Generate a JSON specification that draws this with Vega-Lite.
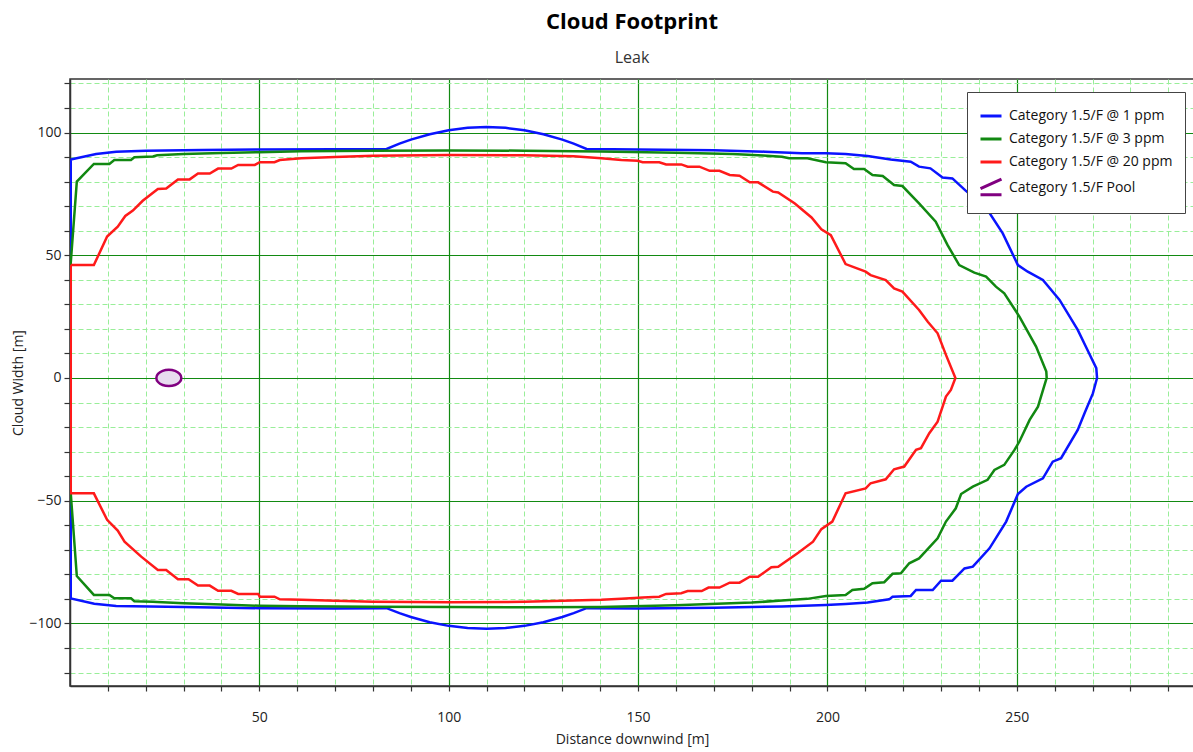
{
  "$schema": "https://vega.github.io/schema/vega-lite/v6.json",
  "width": 1124,
  "height": 607,
  "autosize": {"type": "none"},
  "padding": {"left": 70, "top": 79, "right": 0, "bottom": 66},
  "background": "white",
  "title": {
    "text": "Cloud Footprint",
    "subtitle": "Leak",
    "font": "Open Sans",
    "fontSize": 22,
    "fontWeight": "bold",
    "color": "#000000",
    "subtitleFont": "Open Sans",
    "subtitleFontSize": 16,
    "subtitleColor": "#333333",
    "anchor": "middle",
    "offset": 12,
    "subtitlePadding": 16
  },
  "config": {
    "view": {"stroke": "#333333", "strokeWidth": 1.5},
    "legend": {
      "orient": "none",
      "legendX": 897,
      "legendY": 13,
      "fillColor": "white",
      "strokeColor": "#444444",
      "padding": 12,
      "symbolType": "stroke",
      "symbolSize": 441,
      "symbolStrokeWidth": 3,
      "labelFont": "Open Sans",
      "labelFontSize": 14,
      "labelColor": "#111111",
      "labelOffset": 6,
      "rowPadding": 4,
      "labelLimit": 300
    }
  },
  "datasets": {
    "clouds": [
      {"s":"Category 1.5/F @ 1 ppm","x":0.2,"y":89},
      {"s":"Category 1.5/F @ 1 ppm","x":6.9,"y":91.2},
      {"s":"Category 1.5/F @ 1 ppm","x":12.2,"y":92.2},
      {"s":"Category 1.5/F @ 1 ppm","x":20,"y":92.6},
      {"s":"Category 1.5/F @ 1 ppm","x":35,"y":92.9},
      {"s":"Category 1.5/F @ 1 ppm","x":50,"y":93.1},
      {"s":"Category 1.5/F @ 1 ppm","x":70,"y":93.2},
      {"s":"Category 1.5/F @ 1 ppm","x":83.6,"y":93.3},
      {"s":"Category 1.5/F @ 1 ppm","x":87,"y":95.45},
      {"s":"Category 1.5/F @ 1 ppm","x":90,"y":97.1},
      {"s":"Category 1.5/F @ 1 ppm","x":95,"y":99.3},
      {"s":"Category 1.5/F @ 1 ppm","x":100,"y":100.9},
      {"s":"Category 1.5/F @ 1 ppm","x":105,"y":101.9},
      {"s":"Category 1.5/F @ 1 ppm","x":110,"y":102.2},
      {"s":"Category 1.5/F @ 1 ppm","x":115,"y":101.9},
      {"s":"Category 1.5/F @ 1 ppm","x":120,"y":100.9},
      {"s":"Category 1.5/F @ 1 ppm","x":125,"y":99.3},
      {"s":"Category 1.5/F @ 1 ppm","x":130,"y":97.1},
      {"s":"Category 1.5/F @ 1 ppm","x":133,"y":95.45},
      {"s":"Category 1.5/F @ 1 ppm","x":136.4,"y":93.3},
      {"s":"Category 1.5/F @ 1 ppm","x":150,"y":93.1},
      {"s":"Category 1.5/F @ 1 ppm","x":170,"y":92.8},
      {"s":"Category 1.5/F @ 1 ppm","x":183.5,"y":92.2},
      {"s":"Category 1.5/F @ 1 ppm","x":193.3,"y":91.5},
      {"s":"Category 1.5/F @ 1 ppm","x":199.6,"y":91.5},
      {"s":"Category 1.5/F @ 1 ppm","x":204.8,"y":91.2},
      {"s":"Category 1.5/F @ 1 ppm","x":210.6,"y":90.4},
      {"s":"Category 1.5/F @ 1 ppm","x":216.7,"y":89},
      {"s":"Category 1.5/F @ 1 ppm","x":222,"y":88.1},
      {"s":"Category 1.5/F @ 1 ppm","x":224.2,"y":86.1},
      {"s":"Category 1.5/F @ 1 ppm","x":227.2,"y":85.4},
      {"s":"Category 1.5/F @ 1 ppm","x":230.4,"y":81.7},
      {"s":"Category 1.5/F @ 1 ppm","x":233,"y":81.3},
      {"s":"Category 1.5/F @ 1 ppm","x":236.5,"y":76.3},
      {"s":"Category 1.5/F @ 1 ppm","x":239.5,"y":72.5},
      {"s":"Category 1.5/F @ 1 ppm","x":242.3,"y":68.4},
      {"s":"Category 1.5/F @ 1 ppm","x":246.3,"y":58.9},
      {"s":"Category 1.5/F @ 1 ppm","x":250.3,"y":46},
      {"s":"Category 1.5/F @ 1 ppm","x":252.9,"y":43.3},
      {"s":"Category 1.5/F @ 1 ppm","x":256.9,"y":39.9},
      {"s":"Category 1.5/F @ 1 ppm","x":261.3,"y":31.8},
      {"s":"Category 1.5/F @ 1 ppm","x":266.1,"y":19.6},
      {"s":"Category 1.5/F @ 1 ppm","x":268.8,"y":11},
      {"s":"Category 1.5/F @ 1 ppm","x":271,"y":4},
      {"s":"Category 1.5/F @ 1 ppm","x":271.2,"y":0},
      {"s":"Category 1.5/F @ 1 ppm","x":270.1,"y":-6.3},
      {"s":"Category 1.5/F @ 1 ppm","x":268,"y":-14},
      {"s":"Category 1.5/F @ 1 ppm","x":266.1,"y":-21.2},
      {"s":"Category 1.5/F @ 1 ppm","x":261.7,"y":-32.7},
      {"s":"Category 1.5/F @ 1 ppm","x":259.5,"y":-34.1},
      {"s":"Category 1.5/F @ 1 ppm","x":256.9,"y":-40.9},
      {"s":"Category 1.5/F @ 1 ppm","x":252.5,"y":-44.3},
      {"s":"Category 1.5/F @ 1 ppm","x":250.3,"y":-47.3},
      {"s":"Category 1.5/F @ 1 ppm","x":247.2,"y":-58.5},
      {"s":"Category 1.5/F @ 1 ppm","x":242.8,"y":-69.4},
      {"s":"Category 1.5/F @ 1 ppm","x":238.4,"y":-76.9},
      {"s":"Category 1.5/F @ 1 ppm","x":236.2,"y":-77.6},
      {"s":"Category 1.5/F @ 1 ppm","x":233,"y":-82.6},
      {"s":"Category 1.5/F @ 1 ppm","x":230,"y":-82.6},
      {"s":"Category 1.5/F @ 1 ppm","x":227.8,"y":-86.4},
      {"s":"Category 1.5/F @ 1 ppm","x":223.4,"y":-86.4},
      {"s":"Category 1.5/F @ 1 ppm","x":222,"y":-88.8},
      {"s":"Category 1.5/F @ 1 ppm","x":217.2,"y":-89.1},
      {"s":"Category 1.5/F @ 1 ppm","x":216.3,"y":-90.2},
      {"s":"Category 1.5/F @ 1 ppm","x":210.6,"y":-91.5},
      {"s":"Category 1.5/F @ 1 ppm","x":204.8,"y":-92.1},
      {"s":"Category 1.5/F @ 1 ppm","x":199.6,"y":-92.5},
      {"s":"Category 1.5/F @ 1 ppm","x":188,"y":-93.1},
      {"s":"Category 1.5/F @ 1 ppm","x":170,"y":-93.6},
      {"s":"Category 1.5/F @ 1 ppm","x":150,"y":-93.9},
      {"s":"Category 1.5/F @ 1 ppm","x":136.4,"y":-93.8},
      {"s":"Category 1.5/F @ 1 ppm","x":133,"y":-95.8},
      {"s":"Category 1.5/F @ 1 ppm","x":130,"y":-97.4},
      {"s":"Category 1.5/F @ 1 ppm","x":125,"y":-99.5},
      {"s":"Category 1.5/F @ 1 ppm","x":120,"y":-101},
      {"s":"Category 1.5/F @ 1 ppm","x":115,"y":-101.9},
      {"s":"Category 1.5/F @ 1 ppm","x":110,"y":-102.2},
      {"s":"Category 1.5/F @ 1 ppm","x":105,"y":-101.9},
      {"s":"Category 1.5/F @ 1 ppm","x":100,"y":-101},
      {"s":"Category 1.5/F @ 1 ppm","x":95,"y":-99.5},
      {"s":"Category 1.5/F @ 1 ppm","x":90,"y":-97.4},
      {"s":"Category 1.5/F @ 1 ppm","x":87,"y":-95.8},
      {"s":"Category 1.5/F @ 1 ppm","x":83.6,"y":-93.8},
      {"s":"Category 1.5/F @ 1 ppm","x":70,"y":-93.9},
      {"s":"Category 1.5/F @ 1 ppm","x":50,"y":-93.8},
      {"s":"Category 1.5/F @ 1 ppm","x":30,"y":-93.3},
      {"s":"Category 1.5/F @ 1 ppm","x":12.2,"y":-92.9},
      {"s":"Category 1.5/F @ 1 ppm","x":6.4,"y":-92},
      {"s":"Category 1.5/F @ 1 ppm","x":0.2,"y":-89.8},
      {"s":"Category 1.5/F @ 1 ppm","x":0.2,"y":89},

      {"s":"Category 1.5/F @ 3 ppm","x":0.2,"y":47},
      {"s":"Category 1.5/F @ 3 ppm","x":1.8,"y":80},
      {"s":"Category 1.5/F @ 3 ppm","x":6.3,"y":87.2},
      {"s":"Category 1.5/F @ 3 ppm","x":10.4,"y":87.2},
      {"s":"Category 1.5/F @ 3 ppm","x":11.7,"y":88.8},
      {"s":"Category 1.5/F @ 3 ppm","x":16.1,"y":88.8},
      {"s":"Category 1.5/F @ 3 ppm","x":17,"y":89.9},
      {"s":"Category 1.5/F @ 3 ppm","x":21.9,"y":90.2},
      {"s":"Category 1.5/F @ 3 ppm","x":23,"y":90.7},
      {"s":"Category 1.5/F @ 3 ppm","x":30,"y":91.2},
      {"s":"Category 1.5/F @ 3 ppm","x":40,"y":91.7},
      {"s":"Category 1.5/F @ 3 ppm","x":50,"y":92},
      {"s":"Category 1.5/F @ 3 ppm","x":61,"y":92.4},
      {"s":"Category 1.5/F @ 3 ppm","x":80,"y":92.6},
      {"s":"Category 1.5/F @ 3 ppm","x":100,"y":92.7},
      {"s":"Category 1.5/F @ 3 ppm","x":120,"y":92.6},
      {"s":"Category 1.5/F @ 3 ppm","x":140,"y":92.3},
      {"s":"Category 1.5/F @ 3 ppm","x":160,"y":91.8},
      {"s":"Category 1.5/F @ 3 ppm","x":175,"y":91.2},
      {"s":"Category 1.5/F @ 3 ppm","x":183,"y":90.6},
      {"s":"Category 1.5/F @ 3 ppm","x":188,"y":90.1},
      {"s":"Category 1.5/F @ 3 ppm","x":189.9,"y":89.5},
      {"s":"Category 1.5/F @ 3 ppm","x":194.7,"y":89.5},
      {"s":"Category 1.5/F @ 3 ppm","x":199.6,"y":87.9},
      {"s":"Category 1.5/F @ 3 ppm","x":204.8,"y":87.5},
      {"s":"Category 1.5/F @ 3 ppm","x":207,"y":85.1},
      {"s":"Category 1.5/F @ 3 ppm","x":209.7,"y":85.1},
      {"s":"Category 1.5/F @ 3 ppm","x":211.9,"y":82.7},
      {"s":"Category 1.5/F @ 3 ppm","x":214.6,"y":82.3},
      {"s":"Category 1.5/F @ 3 ppm","x":217.6,"y":78.6},
      {"s":"Category 1.5/F @ 3 ppm","x":219.8,"y":78.2},
      {"s":"Category 1.5/F @ 3 ppm","x":224.2,"y":71.1},
      {"s":"Category 1.5/F @ 3 ppm","x":228.6,"y":63.7},
      {"s":"Category 1.5/F @ 3 ppm","x":231.7,"y":54.2},
      {"s":"Category 1.5/F @ 3 ppm","x":234.8,"y":46},
      {"s":"Category 1.5/F @ 3 ppm","x":238.8,"y":42.9},
      {"s":"Category 1.5/F @ 3 ppm","x":241.9,"y":41.3},
      {"s":"Category 1.5/F @ 3 ppm","x":244.5,"y":37.2},
      {"s":"Category 1.5/F @ 3 ppm","x":246.7,"y":34.5},
      {"s":"Category 1.5/F @ 3 ppm","x":250.7,"y":25},
      {"s":"Category 1.5/F @ 3 ppm","x":255.1,"y":12.8},
      {"s":"Category 1.5/F @ 3 ppm","x":257.8,"y":2.6},
      {"s":"Category 1.5/F @ 3 ppm","x":257.9,"y":0},
      {"s":"Category 1.5/F @ 3 ppm","x":255.6,"y":-11.7},
      {"s":"Category 1.5/F @ 3 ppm","x":253.4,"y":-17.1},
      {"s":"Category 1.5/F @ 3 ppm","x":250.7,"y":-25.9},
      {"s":"Category 1.5/F @ 3 ppm","x":249.4,"y":-29.3},
      {"s":"Category 1.5/F @ 3 ppm","x":246.7,"y":-35.4},
      {"s":"Category 1.5/F @ 3 ppm","x":244.1,"y":-37.5},
      {"s":"Category 1.5/F @ 3 ppm","x":242.3,"y":-41.5},
      {"s":"Category 1.5/F @ 3 ppm","x":238.4,"y":-44.3},
      {"s":"Category 1.5/F @ 3 ppm","x":235.3,"y":-47.3},
      {"s":"Category 1.5/F @ 3 ppm","x":233.9,"y":-53.1},
      {"s":"Category 1.5/F @ 3 ppm","x":231.3,"y":-58.5},
      {"s":"Category 1.5/F @ 3 ppm","x":229.1,"y":-65.3},
      {"s":"Category 1.5/F @ 3 ppm","x":224.2,"y":-73.5},
      {"s":"Category 1.5/F @ 3 ppm","x":221.6,"y":-75.5},
      {"s":"Category 1.5/F @ 3 ppm","x":219.4,"y":-79.6},
      {"s":"Category 1.5/F @ 3 ppm","x":217.2,"y":-79.8},
      {"s":"Category 1.5/F @ 3 ppm","x":215,"y":-83.2},
      {"s":"Category 1.5/F @ 3 ppm","x":211.9,"y":-83.6},
      {"s":"Category 1.5/F @ 3 ppm","x":209.7,"y":-85.9},
      {"s":"Category 1.5/F @ 3 ppm","x":206.6,"y":-86.4},
      {"s":"Category 1.5/F @ 3 ppm","x":204.8,"y":-88.4},
      {"s":"Category 1.5/F @ 3 ppm","x":199.6,"y":-88.8},
      {"s":"Category 1.5/F @ 3 ppm","x":194.7,"y":-90},
      {"s":"Category 1.5/F @ 3 ppm","x":188,"y":-90.7},
      {"s":"Category 1.5/F @ 3 ppm","x":180,"y":-91.5},
      {"s":"Category 1.5/F @ 3 ppm","x":160,"y":-92.6},
      {"s":"Category 1.5/F @ 3 ppm","x":140,"y":-93.3},
      {"s":"Category 1.5/F @ 3 ppm","x":120,"y":-93.4},
      {"s":"Category 1.5/F @ 3 ppm","x":100,"y":-93.3},
      {"s":"Category 1.5/F @ 3 ppm","x":80,"y":-93.2},
      {"s":"Category 1.5/F @ 3 ppm","x":61,"y":-93},
      {"s":"Category 1.5/F @ 3 ppm","x":50,"y":-92.8},
      {"s":"Category 1.5/F @ 3 ppm","x":40,"y":-92.3},
      {"s":"Category 1.5/F @ 3 ppm","x":30,"y":-91.8},
      {"s":"Category 1.5/F @ 3 ppm","x":23,"y":-91.3},
      {"s":"Category 1.5/F @ 3 ppm","x":21.9,"y":-91.2},
      {"s":"Category 1.5/F @ 3 ppm","x":17,"y":-91},
      {"s":"Category 1.5/F @ 3 ppm","x":16.1,"y":-89.8},
      {"s":"Category 1.5/F @ 3 ppm","x":11.7,"y":-89.8},
      {"s":"Category 1.5/F @ 3 ppm","x":10.4,"y":-88.4},
      {"s":"Category 1.5/F @ 3 ppm","x":6.3,"y":-88.4},
      {"s":"Category 1.5/F @ 3 ppm","x":1.8,"y":-80.7},
      {"s":"Category 1.5/F @ 3 ppm","x":0.2,"y":-47},
      {"s":"Category 1.5/F @ 3 ppm","x":0.2,"y":47},

      {"s":"Category 1.5/F @ 20 ppm","x":0.2,"y":46},
      {"s":"Category 1.5/F @ 20 ppm","x":6.3,"y":46},
      {"s":"Category 1.5/F @ 20 ppm","x":9.8,"y":57.6},
      {"s":"Category 1.5/F @ 20 ppm","x":12.6,"y":61.6},
      {"s":"Category 1.5/F @ 20 ppm","x":14.6,"y":66},
      {"s":"Category 1.5/F @ 20 ppm","x":16.6,"y":68.2},
      {"s":"Category 1.5/F @ 20 ppm","x":19.2,"y":72.2},
      {"s":"Category 1.5/F @ 20 ppm","x":23.2,"y":77},
      {"s":"Category 1.5/F @ 20 ppm","x":25.4,"y":77.2},
      {"s":"Category 1.5/F @ 20 ppm","x":28.5,"y":80.9},
      {"s":"Category 1.5/F @ 20 ppm","x":31.6,"y":80.9},
      {"s":"Category 1.5/F @ 20 ppm","x":33.8,"y":83.3},
      {"s":"Category 1.5/F @ 20 ppm","x":36.9,"y":83.3},
      {"s":"Category 1.5/F @ 20 ppm","x":39.1,"y":85.3},
      {"s":"Category 1.5/F @ 20 ppm","x":42.6,"y":85.3},
      {"s":"Category 1.5/F @ 20 ppm","x":44.4,"y":86.8},
      {"s":"Category 1.5/F @ 20 ppm","x":48.8,"y":86.8},
      {"s":"Category 1.5/F @ 20 ppm","x":50.1,"y":87.9},
      {"s":"Category 1.5/F @ 20 ppm","x":54,"y":87.9},
      {"s":"Category 1.5/F @ 20 ppm","x":55.4,"y":88.8},
      {"s":"Category 1.5/F @ 20 ppm","x":61.1,"y":89.5},
      {"s":"Category 1.5/F @ 20 ppm","x":70,"y":90},
      {"s":"Category 1.5/F @ 20 ppm","x":80,"y":90.5},
      {"s":"Category 1.5/F @ 20 ppm","x":100,"y":90.8},
      {"s":"Category 1.5/F @ 20 ppm","x":120,"y":90.7},
      {"s":"Category 1.5/F @ 20 ppm","x":133,"y":90.3},
      {"s":"Category 1.5/F @ 20 ppm","x":140.3,"y":89.5},
      {"s":"Category 1.5/F @ 20 ppm","x":145.6,"y":88.8},
      {"s":"Category 1.5/F @ 20 ppm","x":149.9,"y":88.5},
      {"s":"Category 1.5/F @ 20 ppm","x":151.2,"y":87.9},
      {"s":"Category 1.5/F @ 20 ppm","x":155.6,"y":87.9},
      {"s":"Category 1.5/F @ 20 ppm","x":157.4,"y":87},
      {"s":"Category 1.5/F @ 20 ppm","x":161.4,"y":87},
      {"s":"Category 1.5/F @ 20 ppm","x":163.1,"y":86.1},
      {"s":"Category 1.5/F @ 20 ppm","x":166.2,"y":86.1},
      {"s":"Category 1.5/F @ 20 ppm","x":168.9,"y":84.4},
      {"s":"Category 1.5/F @ 20 ppm","x":171.5,"y":84.4},
      {"s":"Category 1.5/F @ 20 ppm","x":174.2,"y":82.7},
      {"s":"Category 1.5/F @ 20 ppm","x":176.8,"y":82.4},
      {"s":"Category 1.5/F @ 20 ppm","x":179.5,"y":79.7},
      {"s":"Category 1.5/F @ 20 ppm","x":181.7,"y":79.7},
      {"s":"Category 1.5/F @ 20 ppm","x":185.6,"y":75.9},
      {"s":"Category 1.5/F @ 20 ppm","x":187,"y":75.6},
      {"s":"Category 1.5/F @ 20 ppm","x":191.4,"y":71.1},
      {"s":"Category 1.5/F @ 20 ppm","x":195.8,"y":65.4},
      {"s":"Category 1.5/F @ 20 ppm","x":198.4,"y":60.6},
      {"s":"Category 1.5/F @ 20 ppm","x":200.9,"y":58.2},
      {"s":"Category 1.5/F @ 20 ppm","x":204.8,"y":46.4},
      {"s":"Category 1.5/F @ 20 ppm","x":210.1,"y":43.3},
      {"s":"Category 1.5/F @ 20 ppm","x":211.4,"y":41.9},
      {"s":"Category 1.5/F @ 20 ppm","x":215.4,"y":39.9},
      {"s":"Category 1.5/F @ 20 ppm","x":217.6,"y":36.5},
      {"s":"Category 1.5/F @ 20 ppm","x":219.8,"y":35.2},
      {"s":"Category 1.5/F @ 20 ppm","x":224.2,"y":27.7},
      {"s":"Category 1.5/F @ 20 ppm","x":226.5,"y":22.9},
      {"s":"Category 1.5/F @ 20 ppm","x":229.1,"y":18.2},
      {"s":"Category 1.5/F @ 20 ppm","x":231.3,"y":9.4},
      {"s":"Category 1.5/F @ 20 ppm","x":233.8,"y":0},
      {"s":"Category 1.5/F @ 20 ppm","x":232.6,"y":-4.9},
      {"s":"Category 1.5/F @ 20 ppm","x":231.3,"y":-7.6},
      {"s":"Category 1.5/F @ 20 ppm","x":229.1,"y":-17.8},
      {"s":"Category 1.5/F @ 20 ppm","x":226.9,"y":-22.5},
      {"s":"Category 1.5/F @ 20 ppm","x":224.7,"y":-28.6},
      {"s":"Category 1.5/F @ 20 ppm","x":223.4,"y":-29.3},
      {"s":"Category 1.5/F @ 20 ppm","x":220.3,"y":-36.1},
      {"s":"Category 1.5/F @ 20 ppm","x":217.6,"y":-37.2},
      {"s":"Category 1.5/F @ 20 ppm","x":215.4,"y":-41.3},
      {"s":"Category 1.5/F @ 20 ppm","x":211.4,"y":-42.9},
      {"s":"Category 1.5/F @ 20 ppm","x":210.1,"y":-45},
      {"s":"Category 1.5/F @ 20 ppm","x":204.8,"y":-47},
      {"s":"Category 1.5/F @ 20 ppm","x":201.3,"y":-58.5},
      {"s":"Category 1.5/F @ 20 ppm","x":198.4,"y":-61.6},
      {"s":"Category 1.5/F @ 20 ppm","x":196.2,"y":-66.7},
      {"s":"Category 1.5/F @ 20 ppm","x":192.3,"y":-71.2},
      {"s":"Category 1.5/F @ 20 ppm","x":187,"y":-76.9},
      {"s":"Category 1.5/F @ 20 ppm","x":185.2,"y":-77.1},
      {"s":"Category 1.5/F @ 20 ppm","x":181.7,"y":-81},
      {"s":"Category 1.5/F @ 20 ppm","x":179.5,"y":-81},
      {"s":"Category 1.5/F @ 20 ppm","x":176.8,"y":-83.4},
      {"s":"Category 1.5/F @ 20 ppm","x":174.2,"y":-83.4},
      {"s":"Category 1.5/F @ 20 ppm","x":171.5,"y":-85.4},
      {"s":"Category 1.5/F @ 20 ppm","x":168.6,"y":-85.4},
      {"s":"Category 1.5/F @ 20 ppm","x":166.8,"y":-86.8},
      {"s":"Category 1.5/F @ 20 ppm","x":163.1,"y":-86.8},
      {"s":"Category 1.5/F @ 20 ppm","x":161.4,"y":-87.7},
      {"s":"Category 1.5/F @ 20 ppm","x":157.4,"y":-88},
      {"s":"Category 1.5/F @ 20 ppm","x":155.6,"y":-89.1},
      {"s":"Category 1.5/F @ 20 ppm","x":151.2,"y":-89.4},
      {"s":"Category 1.5/F @ 20 ppm","x":145.6,"y":-90},
      {"s":"Category 1.5/F @ 20 ppm","x":140.3,"y":-90.4},
      {"s":"Category 1.5/F @ 20 ppm","x":120,"y":-91.2},
      {"s":"Category 1.5/F @ 20 ppm","x":100,"y":-91.4},
      {"s":"Category 1.5/F @ 20 ppm","x":80,"y":-91.2},
      {"s":"Category 1.5/F @ 20 ppm","x":70,"y":-90.8},
      {"s":"Category 1.5/F @ 20 ppm","x":61.1,"y":-90.4},
      {"s":"Category 1.5/F @ 20 ppm","x":55.4,"y":-90.2},
      {"s":"Category 1.5/F @ 20 ppm","x":54,"y":-89.1},
      {"s":"Category 1.5/F @ 20 ppm","x":50.1,"y":-89.1},
      {"s":"Category 1.5/F @ 20 ppm","x":49.7,"y":-88},
      {"s":"Category 1.5/F @ 20 ppm","x":44.4,"y":-88},
      {"s":"Category 1.5/F @ 20 ppm","x":42.6,"y":-86.7},
      {"s":"Category 1.5/F @ 20 ppm","x":39.1,"y":-86.7},
      {"s":"Category 1.5/F @ 20 ppm","x":36.9,"y":-84.6},
      {"s":"Category 1.5/F @ 20 ppm","x":33.8,"y":-84.6},
      {"s":"Category 1.5/F @ 20 ppm","x":31.3,"y":-82},
      {"s":"Category 1.5/F @ 20 ppm","x":28.5,"y":-82},
      {"s":"Category 1.5/F @ 20 ppm","x":25.4,"y":-78.2},
      {"s":"Category 1.5/F @ 20 ppm","x":23.2,"y":-78.2},
      {"s":"Category 1.5/F @ 20 ppm","x":18.8,"y":-72.8},
      {"s":"Category 1.5/F @ 20 ppm","x":14.4,"y":-66.7},
      {"s":"Category 1.5/F @ 20 ppm","x":12.6,"y":-62.2},
      {"s":"Category 1.5/F @ 20 ppm","x":9.8,"y":-57.8},
      {"s":"Category 1.5/F @ 20 ppm","x":6.3,"y":-47},
      {"s":"Category 1.5/F @ 20 ppm","x":0.2,"y":-47},
      {"s":"Category 1.5/F @ 20 ppm","x":0.2,"y":46}
    ],
    "pool": [
      {"s":"Category 1.5/F Pool","x":29.4,"y":0},
      {"s":"Category 1.5/F Pool","x":28.96,"y":1.65},
      {"s":"Category 1.5/F Pool","x":27.75,"y":2.86},
      {"s":"Category 1.5/F Pool","x":26.1,"y":3.3},
      {"s":"Category 1.5/F Pool","x":24.45,"y":2.86},
      {"s":"Category 1.5/F Pool","x":23.24,"y":1.65},
      {"s":"Category 1.5/F Pool","x":22.8,"y":0},
      {"s":"Category 1.5/F Pool","x":23.24,"y":-1.65},
      {"s":"Category 1.5/F Pool","x":24.45,"y":-2.86},
      {"s":"Category 1.5/F Pool","x":26.1,"y":-3.3},
      {"s":"Category 1.5/F Pool","x":27.75,"y":-2.86},
      {"s":"Category 1.5/F Pool","x":28.96,"y":-1.65}
    ]
  },
  "layer": [
    {
      "data": {"name": "clouds"},
      "mark": {"type": "line", "strokeWidth": 2.5, "interpolate": "linear", "clip": true},
      "encoding": {
        "x": {
          "field": "x", "type": "quantitative",
          "scale": {"domain": [0, 296.8], "nice": false, "zero": false},
          "axis": {
            "orient": "bottom",
            "values": [10,20,30,40,50,60,70,80,90,100,110,120,130,140,150,160,170,180,190,200,210,220,230,240,250,260,270,280,290],
            "grid": true, "gridColor": "#99ee99", "gridDash": [5, 3], "gridWidth": 1,
            "labels": false, "ticks": true, "tickSize": 5, "tickColor": "#333333", "tickWidth": 1.2,
            "domain": true, "domainColor": "#333333", "domainWidth": 1.5, "title": null
          }
        },
        "y": {
          "field": "y", "type": "quantitative",
          "scale": {"domain": [-125.5, 121.8], "nice": false, "zero": false},
          "axis": {
            "orient": "left",
            "values": [-120,-110,-100,-90,-80,-70,-60,-50,-40,-30,-20,-10,0,10,20,30,40,50,60,70,80,90,100,110,120],
            "grid": true, "gridColor": "#99ee99", "gridDash": [5, 3], "gridWidth": 1,
            "labels": false, "ticks": true, "tickSize": 6, "tickColor": "#333333", "tickWidth": 1.2,
            "domain": true, "domainColor": "#333333", "domainWidth": 1.5, "title": null
          }
        },
        "color": {
          "field": "s", "type": "nominal",
          "scale": {
            "domain": ["Category 1.5/F @ 1 ppm", "Category 1.5/F @ 3 ppm", "Category 1.5/F @ 20 ppm", "Category 1.5/F Pool"],
            "range": ["#0a14ff", "#118811", "#ff1a1a", "#800080"]
          },
          "legend": {
            "title": null,
            "encode": {
              "symbols": {
                "update": {
                  "shape": {"signal": "datum.value === 'Category 1.5/F Pool' ? 'M-1,0.05L1,-0.85M-1,0.65L1,0.65' : 'stroke'"}
                }
              }
            }
          }
        },
        "order": {"value": null}
      }
    },
    {
      "data": {"name": "pool"},
      "mark": {"type": "line", "strokeWidth": 2.5, "interpolate": "cardinal-closed", "fill": "#e8dcef"},
      "encoding": {
        "x": {
          "field": "x", "type": "quantitative",
          "axis": {
            "orient": "bottom",
            "values": [50, 100, 150, 200, 250],
            "grid": true, "gridColor": "#128a12", "gridWidth": 1.2,
            "labels": true, "ticks": false, "domain": false,
            "labelFont": "Open Sans", "labelFontSize": 14, "labelColor": "#222222", "labelPadding": 24,
            "title": "Distance downwind [m]", "titleFont": "Open Sans", "titleFontSize": 14,
            "titleFontWeight": "normal", "titleColor": "#222222", "titlePadding": 8
          }
        },
        "y": {
          "field": "y", "type": "quantitative",
          "axis": {
            "orient": "left",
            "values": [-100, -50, 0, 50, 100],
            "grid": true, "gridColor": "#128a12", "gridWidth": 1.2,
            "labels": true, "ticks": false, "domain": false,
            "labelFont": "Open Sans", "labelFontSize": 14, "labelColor": "#222222", "labelPadding": 9,
            "title": "Cloud Width [m]", "titleFont": "Open Sans", "titleFontSize": 14,
            "titleFontWeight": "normal", "titleColor": "#222222", "titlePadding": 3
          }
        },
        "color": {"field": "s", "type": "nominal"},
        "order": {"value": null}
      }
    }
  ],
  "resolve": {"axis": {"x": "independent", "y": "independent"}}
}
